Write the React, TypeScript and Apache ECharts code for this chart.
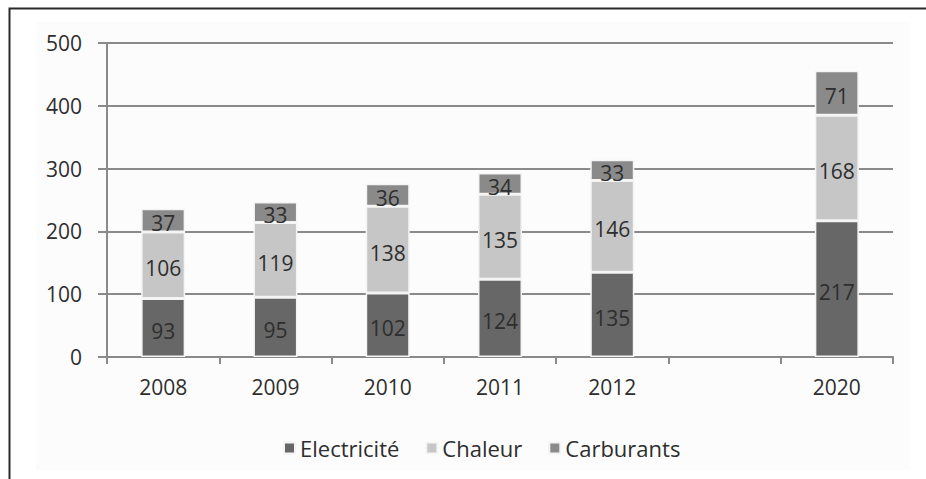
import React, { useEffect, useRef } from "react";
import * as echarts from "echarts";

const categories = ["2008", "2009", "2010", "2011", "2012", "", "2020"];
const electricite = [93, 95, 102, 124, 135, null, 217];
const chaleur = [106, 119, 138, 135, 146, null, 168];
const carburants = [37, 33, 36, 34, 33, null, 71];
const seriesNames = ["Electricité", "Chaleur", "Carburants"];
const colors = ["#676767", "#c6c6c6", "#8a8a8a"];

const FONT = "'Open Sans', 'Liberation Sans', sans-serif";
const TEXT = "#2e2e2e";

export default function App() {
  const ref = useRef<HTMLDivElement>(null);
  useEffect(() => {
    if (!ref.current) return;
    const chart = echarts.init(ref.current, undefined, { renderer: "svg" });
    const datasets = [electricite, chaleur, carburants];
    chart.setOption({
      animation: false,
      backgroundColor: "#ffffff",
      graphic: [
        {
          type: "rect",
          shape: { x: 36, y: 22, width: 874, height: 448 },
          style: { fill: "#fcfcfc" },
          z: -10,
        },
        {
          type: "polyline",
          shape: { points: [[9.5, 479], [9.5, 8.5], [926, 8.5]] },
          style: { stroke: "#2a2a2a", lineWidth: 2, fill: "none" },
        },
      ],
      grid: { left: 107, right: 33, top: 43, bottom: 122, containLabel: false },
      legend: {
        bottom: 15,
        left: 278,
        icon: "rect",
        itemWidth: 11,
        itemHeight: 11,
        itemGap: 26,
        data: seriesNames,
        textStyle: { fontFamily: FONT, fontSize: 22, color: TEXT },
      },
      xAxis: {
        type: "category",
        data: categories,
        axisLine: { lineStyle: { color: "#8a8a8a", width: 2 } },
        axisTick: { show: true, interval: 0, length: 7, lineStyle: { color: "#8a8a8a", width: 2 } },
        axisLabel: { fontFamily: FONT, fontSize: 21, color: TEXT, margin: 19, interval: 0 },
      },
      yAxis: {
        type: "value",
        min: 0,
        max: 500,
        interval: 100,
        axisLine: { show: true, lineStyle: { color: "#8a8a8a", width: 2 } },
        axisTick: { show: true, length: 9, lineStyle: { color: "#8a8a8a", width: 2 } },
        splitLine: { lineStyle: { color: "#8a8a8a", width: 2 } },
        axisLabel: { fontFamily: FONT, fontSize: 21, color: TEXT, margin: 25 },
      },
      series: seriesNames.map((name, i) => ({
        name,
        type: "bar",
        stack: "total",
        barWidth: 44,
        data: datasets[i].map((v) => (v === null ? "-" : v)),
        itemStyle: { color: colors[i], borderColor: "#f4f4f4", borderWidth: 1.5 },
        label: {
          show: true,
          position: "inside",
          offset: [0, 3],
          fontFamily: FONT,
          fontSize: 21,
          color: TEXT,
        },
      })),
    });
    return () => chart.dispose();
  }, []);
  return (
    <div
      ref={ref}
      style={{ position: "fixed", left: 0, top: 0, width: 926, height: 479 }}
    />
  );
}
